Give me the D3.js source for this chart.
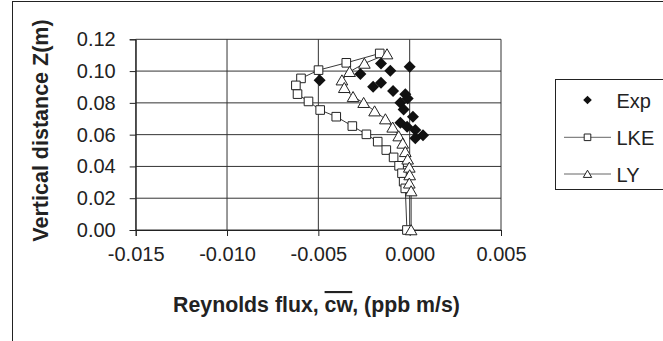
<!DOCTYPE html>
<html>
<head>
<meta charset="utf-8">
<script src="https://cdn.jsdelivr.net/npm/d3@7"></script>
<style>
  html, body { margin: 0; padding: 0; background: #fff; }
  svg { display: block; font-family: "Liberation Sans", Arial, Helvetica, sans-serif; }
</style>
</head>
<body>
<svg id="chart" width="663" height="341"></svg>
<script>
// Reynolds flux profiles: measured (Exp) and two model predictions (LKE, LY)
const expFlux = [-0.00493, -0.00157, -0.00106, 0.00000, -0.00270, -0.00200, -0.00157, -0.00091,
                 -0.00024, -0.00011, -0.00051, -0.00033, 0.00018, -0.00051, -0.00014, 0.00031,
                 0.00073, 0.00031];
const expZ    = [0.0943, 0.1048, 0.1002, 0.1027, 0.0981, 0.0901, 0.0926, 0.0874,
                 0.0855, 0.0828, 0.0801, 0.0759, 0.0713, 0.0675, 0.0650, 0.0629,
                 0.0597, 0.0577];

const lkeFlux = [-0.00164, -0.00347, -0.00499, -0.00595, -0.00623, -0.00614, -0.00554, -0.00490,
                 -0.00402, -0.00314, -0.00237, -0.00175, -0.00128, -0.00088, -0.00058, -0.00042,
                 -0.00033, -0.00024, -0.00015];
const lkeZ    = [0.1111, 0.1052, 0.1006, 0.0954, 0.0910, 0.0855, 0.0809, 0.0755,
                 0.0713, 0.0654, 0.0602, 0.0556, 0.0503, 0.0457, 0.0404, 0.0357,
                 0.0304, 0.0262, 0.0000];

const lyFlux  = [-0.00124, -0.00248, -0.00329, -0.00371, -0.00358, -0.00310, -0.00252, -0.00192,
                 -0.00133, -0.00093, -0.00060, -0.00038, -0.00024, -0.00011, -0.00002, 0.00000,
                 -0.00002, 0.00008, 0.00008];
const lyZ     = [0.1107, 0.1048, 0.0996, 0.0943, 0.0895, 0.0838, 0.0801, 0.0748,
                 0.0698, 0.0646, 0.0591, 0.0545, 0.0492, 0.0445, 0.0394, 0.0346,
                 0.0294, 0.0245, 0.0000];

const xTicks = [-0.015, -0.010, -0.005, 0.000, 0.005];
const xTickLabels = ["-0.015", "-0.010", "-0.005", "0.000", "0.005"];
const yTicks = [0.00, 0.02, 0.04, 0.06, 0.08, 0.10, 0.12];
const yTickLabels = ["0.00", "0.02", "0.04", "0.06", "0.08", "0.10", "0.12"];

const seriesNames = ["Exp", "LKE", "LY"];

const svg = d3.select("#chart");

// outer chart frame
svg.append("rect")
  .attr("x", 12.5).attr("y", 1.5)
  .attr("width", 800).attr("height", 400)
  .attr("fill", "none").attr("stroke", "#222").attr("stroke-width", 1);

const x = d3.scaleLinear().domain([-0.015, 0.005]).range([135.7, 501]);
const y = d3.scaleLinear().domain([0, 0.12]).range([230, 39.3]);

// gridlines
const grid = svg.append("g").attr("stroke", "#333").attr("stroke-width", 1);
grid.selectAll("line.h").data(yTicks).join("line")
  .attr("class", "h")
  .attr("x1", x.range()[0]).attr("x2", x.range()[1])
  .attr("y1", d => y(d)).attr("y2", d => y(d));
grid.selectAll("line.v").data(xTicks).join("line")
  .attr("class", "v")
  .attr("x1", d => x(d)).attr("x2", d => x(d))
  .attr("y1", y.range()[0]).attr("y2", y.range()[1]);

// axes
const xAxis = d3.axisBottom(x)
  .tickValues(xTicks)
  .tickFormat((d, i) => xTickLabels[i])
  .tickSize(6).tickPadding(11);
const gx = svg.append("g").attr("transform", `translate(0,${y(0)})`).call(xAxis);
gx.select(".domain").attr("stroke", "#222");
gx.selectAll(".tick line").attr("stroke", "#222");
gx.selectAll("text").attr("font-size", 20).attr("fill", "#222")
  .attr("font-family", "'Liberation Sans', Arial, sans-serif");

const yAxis = d3.axisLeft(y)
  .tickValues(yTicks)
  .tickFormat((d, i) => yTickLabels[i])
  .tickSize(6).tickPadding(14);
const gy = svg.append("g").attr("transform", `translate(${x(-0.015)},0)`).call(yAxis);
gy.select(".domain").attr("stroke", "#222");
gy.selectAll(".tick line").attr("stroke", "#222");
gy.selectAll("text").attr("font-size", 20).attr("fill", "#222")
  .attr("font-family", "'Liberation Sans', Arial, sans-serif");

// axis titles
svg.append("text")
  .attr("transform", "translate(47.5,130.5) rotate(-90)")
  .attr("text-anchor", "middle")
  .attr("font-size", 21.5).attr("font-weight", "bold").attr("fill", "#222")
  .text("Vertical distance Z(m)");

const xTitle = svg.append("text")
  .attr("x", 316.5).attr("y", 312)
  .attr("text-anchor", "middle")
  .attr("font-size", 21.3).attr("font-weight", "bold").attr("fill", "#222");
xTitle.append("tspan").text("Reynolds flux, ");
xTitle.append("tspan").attr("text-decoration", "overline").text("cw");
xTitle.append("tspan").text(", (ppb m/s)");

// marker shapes
const diamond = s => `M0,${-s}L${s},0L0,${s}L${-s},0Z`;
const square = s => `M${-s},${-s}H${s}V${s}H${-s}Z`;
const triangle = s => `M0,${-s}L${s * 1.1},${s * 0.9}L${-s * 1.1},${s * 0.9}Z`;

const line = d3.line().x(d => x(d[0])).y(d => y(d[1]));
const plot = svg.append("g");

const lkePts = lkeFlux.map((v, i) => [v, lkeZ[i]]);
const lyPts = lyFlux.map((v, i) => [v, lyZ[i]]);
const expPts = expFlux.map((v, i) => [v, expZ[i]]);

plot.append("path").datum(lkePts).attr("d", line)
  .attr("fill", "none").attr("stroke", "#222").attr("stroke-width", 0.9);
plot.append("path").datum(lyPts).attr("d", line)
  .attr("fill", "none").attr("stroke", "#222").attr("stroke-width", 0.9);

plot.selectAll("path.lke").data(lkePts).join("path")
  .attr("class", "lke")
  .attr("transform", d => `translate(${x(d[0])},${y(d[1])})`)
  .attr("d", square(4.3))
  .attr("fill", "#fff").attr("stroke", "#222").attr("stroke-width", 1);
plot.selectAll("path.ly").data(lyPts).join("path")
  .attr("class", "ly")
  .attr("transform", d => `translate(${x(d[0])},${y(d[1])})`)
  .attr("d", triangle(5.3))
  .attr("fill", "#fff").attr("stroke", "#222").attr("stroke-width", 1);
plot.selectAll("path.exp").data(expPts).join("path")
  .attr("class", "exp")
  .attr("transform", d => `translate(${x(d[0])},${y(d[1])})`)
  .attr("d", diamond(6))
  .attr("fill", "#111");

// legend
const legend = svg.append("g");
legend.append("rect")
  .attr("x", 555.5).attr("y", 79.5).attr("width", 120).attr("height", 110)
  .attr("fill", "#fff").attr("stroke", "#222").attr("stroke-width", 1);

const legendY = [100, 137.3, 174];
const legendShapes = [diamond(4.3), square(3.3), triangle(3.8)];
seriesNames.forEach((name, i) => {
  const g = legend.append("g").attr("transform", `translate(0,${legendY[i]})`);
  if (i > 0) {
    g.append("line").attr("x1", 564).attr("x2", 611).attr("y1", 0).attr("y2", 0)
      .attr("stroke", "#666").attr("stroke-width", 1);
  }
  g.append("path").attr("transform", "translate(587.5,0)")
    .attr("d", legendShapes[i])
    .attr("fill", i === 0 ? "#111" : "#fff")
    .attr("stroke", i === 0 ? "none" : "#222").attr("stroke-width", 1);
  g.append("text").attr("x", 616.5).attr("y", 7.5)
    .attr("font-size", 20).attr("fill", "#222").text(name);
});
</script>
</body>
</html>
